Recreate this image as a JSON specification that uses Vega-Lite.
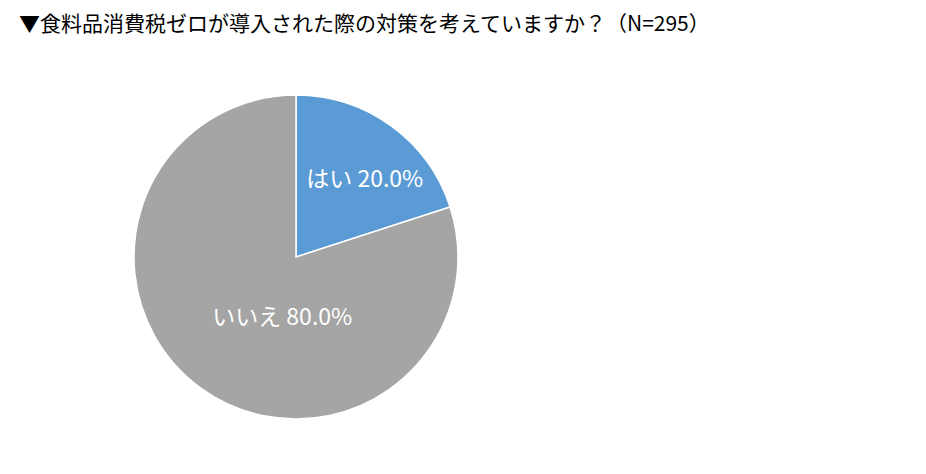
{
  "$schema": "https://vega.github.io/schema/vega-lite/v6.json",
  "autosize": "none",
  "padding": {"left": 134, "top": 95, "right": 468, "bottom": 55},
  "width": 324,
  "height": 324,
  "background": "white",
  "title": {
    "text": "▼食料品消費税ゼロが導入された際の対策を考えていますか？（N=295）",
    "anchor": "start",
    "frame": "group",
    "dx": -115,
    "offset": 57,
    "font": "Noto Sans CJK JP",
    "fontSize": 21,
    "fontWeight": "normal",
    "color": "#000000"
  },
  "data": {
    "values": [
      {"answer": "はい", "value": 20.0, "label": "はい 20.0%", "order": 1},
      {"answer": "いいえ", "value": 80.0, "label": "いいえ 80.0%", "order": 2}
    ]
  },
  "encoding": {
    "theta": {"field": "value", "type": "quantitative", "stack": true},
    "order": {"field": "order", "type": "quantitative"}
  },
  "layer": [
    {
      "mark": {"type": "arc", "outerRadius": 162, "stroke": "white", "strokeWidth": 1.5},
      "encoding": {
        "color": {
          "field": "answer",
          "type": "nominal",
          "scale": {"domain": ["はい", "いいえ"], "range": ["#5B9BD5", "#A5A5A5"]},
          "legend": null
        }
      }
    },
    {
      "mark": {"type": "text", "radius": 100, "dx": 10, "dy": 4, "font": "Noto Sans CJK JP", "fontSize": 23, "color": "white", "align": "center", "baseline": "middle"},
      "encoding": {"text": {"condition": {"test": "datum.answer === 'はい'", "field": "label"}, "value": ""}}
    },
    {
      "mark": {"type": "text", "radius": 100, "dx": 45, "dy": -20, "font": "Noto Sans CJK JP", "fontSize": 23, "color": "white", "align": "center", "baseline": "middle"},
      "encoding": {"text": {"condition": {"test": "datum.answer === 'いいえ'", "field": "label"}, "value": ""}}
    }
  ]
}
